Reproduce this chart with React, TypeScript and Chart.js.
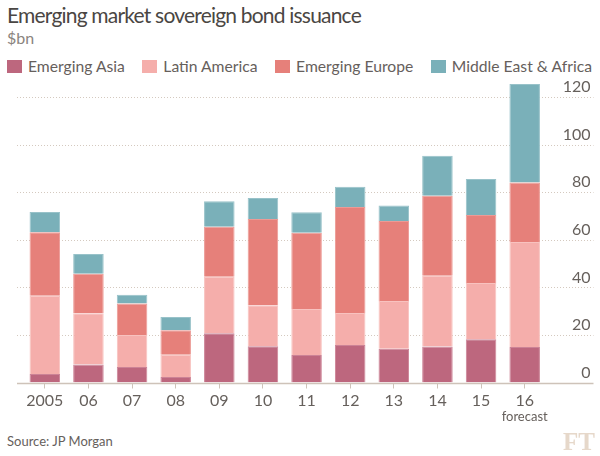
import React, { useEffect, useRef } from "react";
import { Chart, registerables } from "chart.js";

Chart.register(...registerables);

// ---- data ----
const categories = ["2005", "06", "07", "08", "09", "10", "11", "12", "13", "14", "15", "16"];
const emergingAsia = [3.6, 7.6, 6.5, 2.3, 20.7, 15.2, 11.6, 15.8, 14.2, 15.1, 18.2, 14.9];
const latinAmerica = [32.9, 21.5, 13.5, 9.4, 23.8, 17.3, 19.3, 13.4, 20.1, 29.8, 23.7, 44.2];
const emergingEurope = [26.7, 16.7, 13.2, 10.3, 21.0, 36.3, 32.1, 44.6, 33.6, 33.7, 28.6, 25.0];
const middleEastAfrica = [8.5, 8.3, 3.7, 5.6, 10.7, 8.8, 8.6, 8.6, 6.6, 16.8, 15.1, 41.5];
const seriesNames = ["Emerging Asia", "Latin America", "Emerging Europe", "Middle East & Africa"];
const seriesColors = ["#bd677e", "#f5aeab", "#e6807a", "#7ab0b9"];
const seriesBorders = ["#cc8396", "#f8c2bf", "#ec9a95", "#98c2c9"];
const yTicks = [0, 20, 40, 60, 80, 100, 120];
const forecastCategory = "16";
const forecastLabel = "forecast";

const TITLE = "Emerging market sovereign bond issuance";
const SUBTITLE = "$bn";
const SOURCE = "Source: JP Morgan";

const FONT = "Lato, 'Noto Sans', sans-serif";
const TEXT = "#66605c";
const GRID = "#d4c9bf";
const AXIS = "#cec3b9";

const ftPlugin = {
  id: "ftExtras",
  beforeDatasetsDraw(chart: any) {
    const y = chart.scales.y;
    const area = chart.chartArea;
    const ctx = chart.ctx;
    ctx.save();
    ctx.strokeStyle = GRID;
    ctx.lineWidth = 1;
    ctx.setLineDash([1, 2]);
    for (const t of y.ticks) {
      if (t.value === 0) continue;
      const py = Math.round(y.getPixelForValue(t.value)) + 0.5;
      ctx.beginPath();
      ctx.moveTo(area.left - 6, py);
      ctx.lineTo(y.right + 3, py);
      ctx.stroke();
    }
    ctx.restore();
  },
  afterDatasetsDraw(chart: any) {
    const y = chart.scales.y;
    const x = chart.scales.x;
    const area = chart.chartArea;
    const ctx = chart.ctx;
    ctx.save();
    const py = Math.round(y.getPixelForValue(0)) + 0.5;
    ctx.strokeStyle = AXIS;
    ctx.lineWidth = 1.5;
    ctx.beginPath();
    ctx.moveTo(area.left - 6, py);
    ctx.lineTo(y.right + 3, py);
    ctx.stroke();
    const idx = categories.indexOf(forecastCategory);
    if (idx >= 0) {
      ctx.fillStyle = TEXT;
      ctx.font = `13px ${FONT}`;
      ctx.textAlign = "center";
      ctx.textBaseline = "middle";
      ctx.fillText(forecastLabel, x.getPixelForValue(idx), py + 33);
    }
    ctx.restore();
  },
};

export default function App() {
  const ref = useRef<HTMLCanvasElement | null>(null);

  useEffect(() => {
    if (!ref.current) return;
    const series = [emergingAsia, latinAmerica, emergingEurope, middleEastAfrica];
    const chart = new Chart(ref.current, {
      type: "bar",
      data: {
        labels: categories,
        datasets: series.map((d, i) => ({
          label: seriesNames[i],
          data: d,
          backgroundColor: seriesColors[i],
          borderColor: seriesBorders[i],
          borderWidth: 1,
          categoryPercentage: 1,
          barPercentage: 0.7,
        })),
      },
      options: {
        animation: false,
        responsive: false,
        layout: { padding: { left: 23, right: 9.5, top: 13, bottom: 7.5 } },
        plugins: { legend: { display: false }, tooltip: { enabled: false } },
        scales: {
          x: {
            stacked: true,
            offset: true,
            afterFit: (s: any) => {
              s.height = 40;
            },
            grid: {
              offset: false,
              drawOnChartArea: false,
              drawTicks: true,
              tickLength: 6,
              tickColor: AXIS,
              color: AXIS,
            },
            border: { display: false },
            ticks: {
              color: TEXT,
              font: { family: FONT, size: 16 },
              padding: 3,
              maxRotation: 0,
              autoSkip: false,
            },
          },
          y: {
            stacked: true,
            position: "right",
            min: 0,
            max: 126,
            afterBuildTicks: (s: any) => {
              s.ticks = yTicks.map((v) => ({ value: v }));
            },
            afterFit: (s: any) => {
              s.width = 44;
            },
            grid: { display: false },
            border: { display: false },
            ticks: {
              color: TEXT,
              font: { family: FONT, size: 16 },
              crossAlign: "far",
              labelOffset: -10,
              padding: 0,
            },
          },
        },
      },
      plugins: [ftPlugin],
    } as any);
    return () => chart.destroy();
  }, []);

  return (
    <div
      style={{
        position: "absolute",
        left: 0,
        top: 0,
        width: 600,
        height: 456,
        background: "#fff",
        fontFamily: FONT,
        overflow: "hidden",
      }}
    >
      <div
        style={{
          position: "absolute",
          left: 7,
          top: 2,
          fontSize: 21,
          letterSpacing: -0.8,
          lineHeight: "26px",
          color: "#4a4643",
          whiteSpace: "nowrap",
        }}
      >
        {TITLE}
      </div>
      <div style={{ position: "absolute", left: 7, top: 28, fontSize: 16, lineHeight: "20px", color: "#8a847e" }}>
        {SUBTITLE}
      </div>
      <div style={{ position: "absolute", left: 7, top: 56, display: "flex", alignItems: "center", gap: 17.5, whiteSpace: "nowrap" }}>
        {seriesNames.map((n, i) => (
          <div key={n} style={{ display: "flex", alignItems: "center", gap: 6 }}>
            <span style={{ display: "inline-block", width: 15, height: 13, background: seriesColors[i] }} />
            <span style={{ fontSize: 15.7, lineHeight: "20px", color: TEXT }}>{n}</span>
          </div>
        ))}
      </div>
      <canvas ref={ref} width={600} height={360} style={{ position: "absolute", left: 0, top: 70, width: 600, height: 360 }} />
      <div style={{ position: "absolute", left: 7, top: 433, fontSize: 13, lineHeight: "16px", color: TEXT }}>{SOURCE}</div>
      <div
        style={{
          position: "absolute",
          left: 563,
          top: 428,
          fontSize: 25,
          lineHeight: "28px",
          fontWeight: 700,
          fontFamily: "'Liberation Serif', 'DejaVu Serif', serif",
          color: "#e6d8ca",
        }}
      >
        FT
      </div>
    </div>
  );
}
